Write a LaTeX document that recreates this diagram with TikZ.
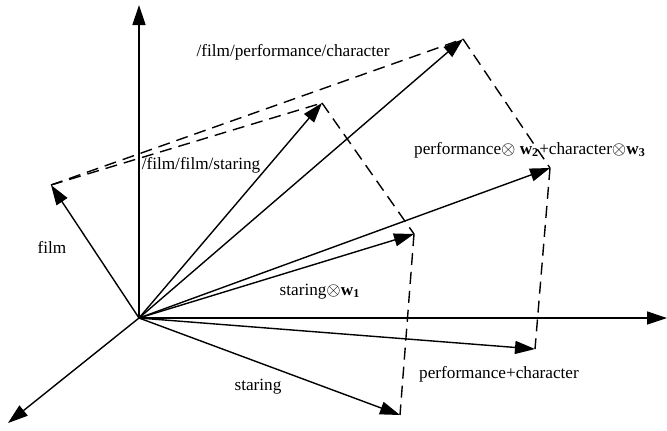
\documentclass[tikz,border=0pt]{standalone}
\usepackage{fontspec}
\setmainfont{Liberation Serif}
\usetikzlibrary{arrows.meta}
\tikzset{
  vec/.style={-{Triangle[length=10pt,width=6.5pt]},line width=0.7pt},
  proj/.style={dash pattern=on 6pt off 3.5pt,line width=0.7pt},
  lbl/.style={font=\fontsize{8.6}{10}\selectfont,inner sep=0pt}
}
\newcommand{\wv}[1]{\textbf{w}\textsubscript{\textbf{#1}}}

\begin{document}
\begin{tikzpicture}[x=0.5pt,y=-0.5pt]
  \useasboundingbox (0,0) rectangle (667,430);
  % axes
  \coordinate (o) at (139,318);
  \coordinate (up) at (139,5);
  \coordinate (right) at (667,318);
  \coordinate (down) at (8,423);
  % vector tips
  \coordinate (film) at (51,185);
  \coordinate (ffs) at (322,103);
  \coordinate (fpc) at (463,39);
  \coordinate (sw) at (414,234);
  \coordinate (pcw) at (550,168);
  \coordinate (st) at (400,415);
  \coordinate (pc) at (535,349);

  \draw[vec] (o) -- (up);
  \draw[vec] (o) -- (right);
  \draw[vec] (o) -- (down);

  \draw[vec] (o) -- (film);
  \draw[vec] (o) -- (ffs);
  \draw[vec] (o) -- (fpc);
  \draw[vec] (o) -- (sw);
  \draw[vec] (o) -- (pcw);
  \draw[vec] (o) -- (st);
  \draw[vec] (o) -- (pc);

  \draw[proj] (film) -- (fpc);
  \draw[proj] (film) -- (ffs);
  \draw[proj] (fpc) -- (pcw);
  \draw[proj] (ffs) -- (sw);
  \draw[proj] (pcw) -- (pc);
  \draw[proj] (sw) -- (st);

  % labels
  \node[lbl] (lfpc) at (293,52) {/film/performance/character};
  \node[lbl] (lffs) at (201,165) {/film/film/staring};
  \node[lbl] (lpcw) at (530,150) {performance$\otimes$ \wv{2}+character$\otimes$\wv{3}};
  \node[lbl] (lfilm) at (52,247) {film};
  \node[lbl] (lsw) at (320,292) {staring$\otimes$\wv{1}};
  \node[lbl] (lst) at (258,387) {staring};
  \node[lbl] (lpc) at (499,374) {performance+character};
\end{tikzpicture}
\end{document}
